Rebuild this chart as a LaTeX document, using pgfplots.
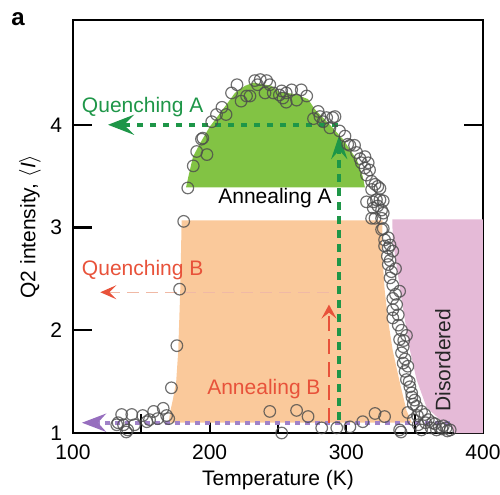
\documentclass[border=0pt]{standalone}
\usepackage{fontspec}
\setmainfont{Liberation Sans}
\usepackage{pgfplots}
\pgfplotsset{compat=1.18}
\usetikzlibrary{arrows.meta}
\definecolor{gfill}{RGB}{130,195,68}
\definecolor{ofill}{RGB}{250,201,155}
\definecolor{pfill}{RGB}{229,186,215}
\definecolor{dgreen}{RGB}{30,150,72}
\definecolor{dred}{RGB}{232,82,58}
\definecolor{lpeach}{RGB}{240,185,165}
\definecolor{purp}{RGB}{160,130,200}
\definecolor{purph}{RGB}{150,110,190}
\newcommand{\lf}{\fontsize{10.5bp}{12bp}\selectfont}
\begin{document}
\begin{tikzpicture}
\begin{axis}[
  scale only axis, width=205bp, height=206.5bp,
  xmin=100, xmax=400, ymin=1, ymax=5.02,
  clip=false,
  xtick={100,200,300,400}, minor xtick={150,250,350},
  ytick={1,2,3,4},
  tick align=inside,
  xtick pos=left, ytick pos=both,
  major tick length=9.5bp, minor tick length=9.5bp,
  every tick/.style={black, line width=1.1bp},
  axis line style={line width=1.2bp},
  tick label style={font=\lf},
  /pgf/number format/assume math mode=true,
  yticklabel style={xshift=-2bp},
  xticklabel style={yshift=-2.5bp},
  xlabel={Temperature (K)},
  ylabel={Q2 intensity, $\langle \mathit{I}\rangle$},
  label style={font=\lf},
  xlabel style={at={(axis description cs:0.5,-0.1138)}, anchor=center},
  ylabel style={at={(axis description cs:-0.1049,0.5)}, anchor=center},
]
\coordinate (sw) at (rel axis cs:0,0);
\coordinate (ne) at (rel axis cs:1,1);
% regions
\addplot[fill=gfill, draw=none] coordinates {(182.7,3.39) (184.5,3.5) (187.8,3.69) (193,3.82) (200,3.98) (208,4.12) (218.5,4.31) (226,4.38) (232,4.41) (245,4.38) (251,4.32) (262,4.3) (272,4.25) (277,4.15) (288,4.0) (297.5,3.86) (307.7,3.66) (312,3.5) (313.6,3.39)} --cycle;
\addplot[fill=ofill, draw=none] coordinates {(179.5,3.07) (326.5,3.07) (326,2.8) (328,2.4) (330.5,2.1) (334,1.8) (339,1.5) (344,1.22) (348,1.1) (170,1.1) (171,1.2) (173,1.32) (175.5,1.5) (177,1.8) (178.5,2.4)} --cycle;
\addplot[fill=pfill, draw=none] coordinates {(333.6,3.08) (400,3.08) (400,1) (379,1) (376,1.08) (368.5,1.13) (358.7,1.25) (351.4,1.52) (346.5,1.81) (340.4,2.3) (336,2.7) (334,2.88)} --cycle;
% arrows
\addplot[purp, line width=2bp, dash pattern=on 2.5bp off 2.5bp, -{Stealth[length=12bp,width=9bp,inset=4bp,color=purph,fill=purph]}] coordinates {(376,1.1) (106.5,1.1)};
\addplot[lpeach, line width=0.6bp, dash pattern=on 6bp off 3.5bp, -{Stealth[length=8bp,width=7bp,inset=3.5bp,color=dred,fill=dred]}] coordinates {(287,2.37) (120,2.37)};
\addplot[dred, line width=1bp, dash pattern=on 7.5bp off 4bp, -{Stealth[length=7bp,width=7.5bp,inset=3bp]}] coordinates {(287.3,1.1) (287.3,2.25)};
\addplot[dgreen, line width=1.8bp, dash pattern=on 3bp off 3.5bp, -{Stealth[length=13bp,width=10bp,inset=5bp]}] coordinates {(294,4.0) (125.6,4.0)};
\addplot[dgreen, line width=1.8bp, dash pattern=on 4bp off 3bp, -{Stealth[length=12bp,width=8bp,inset=4.5bp]}] coordinates {(294.8,1.13) (294.8,3.9)};
% data
\addplot[only marks, mark=o, mark size=2.9bp, mark options={draw=black!70, line width=0.6bp, opacity=0.8}] coordinates {
(132,1.08) (133,1.10) (135.6,1.18) (137,1.08) (139,1.01) (140,1.03) (143,1.18) (145,1.08) (151,1.17) (154,1.11) (156,1.13) (159,1.21) (162,1.14) (166,1.24) (168.5,1.17) (170,1.14) (172,1.44) (176,1.85) (178,2.40) (181,3.06) (184,3.385) (188,3.6) (190.5,3.74) (194,3.86) (198,3.71) (195,3.87) (201.5,4.03) (205,4.10) (209,4.17) (212,4.10) (216,4.31) (220,4.39) (223,4.23) (227,4.28) (229.5,4.28) (233,4.43) (235,4.39) (237,4.44) (240.5,4.31) (241.7,4.43) (244,4.39) (246.5,4.31) (251,4.29) (252.7,4.33) (253.6,4.26) (256,4.31) (256,4.22) (260,4.34) (263.6,4.24) (267,4.34) (271,4.28) (276,4.06) (279.4,4.13) (280.7,4.08) (283,4.03) (285.6,4.07) (288,3.97) (290,4.07) (291.7,4.08) (295,3.94) (299,3.89) (301,3.81) (302.6,3.80) (306,3.80) (307.5,3.73) (310,3.67) (311,3.63) (313.6,3.58) (313.6,3.69) (314.8,3.51) (316,3.63) (317,3.56) (318.5,3.45) (318.5,3.37) (321,3.42) (323,3.40) (324.6,3.38) (314.8,3.25) (319.7,3.25) (322,3.27) (324.6,3.27) (327,3.26) (319.7,3.19) (323,3.21) (325.8,3.17) (327,3.14) (318.5,3.09) (321,3.09) (325.8,3.09) (325.8,2.98) (327,2.99) (328,2.88) (330.7,2.90) (330.7,2.80) (332,2.83) (328,2.82) (334,2.77) (330.7,2.64) (333,2.57) (332,2.51) (334,2.44) (339,2.38) (334,2.31) (336.8,2.25) (334,2.20) (334,2.12) (338,2.05) (340.4,2.00) (344,1.95) (339,1.91) (341.6,1.84) (340.4,1.78) (341.6,1.68) (343,1.60) (344,1.52) (346.5,1.45) (347.8,1.39) (350,1.32) (351.4,1.26) (355,1.21) (357.5,1.18) (360,1.13) (364.8,1.09) (368,1.06) (373,1.05) (352.6,1.08) (355,1.03) (349,1.13) (339,1.03) (340,1.01) (328,1.16) (321,1.19) (312,1.11) (302.6,1.06) (293,1.05) (282,1.05) (272,1.16) (263.6,1.22) (244,1.21) (252.7,1.00) (363,1.10) (370,1.04) (376,1.03) (345,1.2)
(348,1.35) (346,1.5) (343,1.72) (345,1.65) (349,1.28) (352,1.17) (358,1.1) (362,1.05) (366,1.03) (371,1.07) (374,1.02) (338,2.15) (336,2.35) (332,2.68) (330,2.72) (336,2.6) (342,1.9)
};
% texts
\node[dgreen, font=\lf] at (axis cs:151,4.17) {Quenching A};
\node[black, font=\lf] at (axis cs:247.8,3.29) {Annealing A};
\node[dred, font=\lf] at (axis cs:151,2.59) {Quenching B};
\node[dred, font=\lf] at (axis cs:239.7,1.43) {Annealing B};
\node[black!85, font=\lf, rotate=90] at (axis cs:370.7,1.71) {Disordered};
\end{axis}
\node[font=\fontsize{12bp}{14bp}\selectfont\bfseries] at ([shift={(-27.5bp,207bp)}]sw) {a};
\pgfresetboundingbox
\path[use as bounding box] ([shift={(-36.5bp,-31bp)}]sw) rectangle ([shift={(8.5bp,10bp)}]ne);
\end{tikzpicture}
\end{document}
